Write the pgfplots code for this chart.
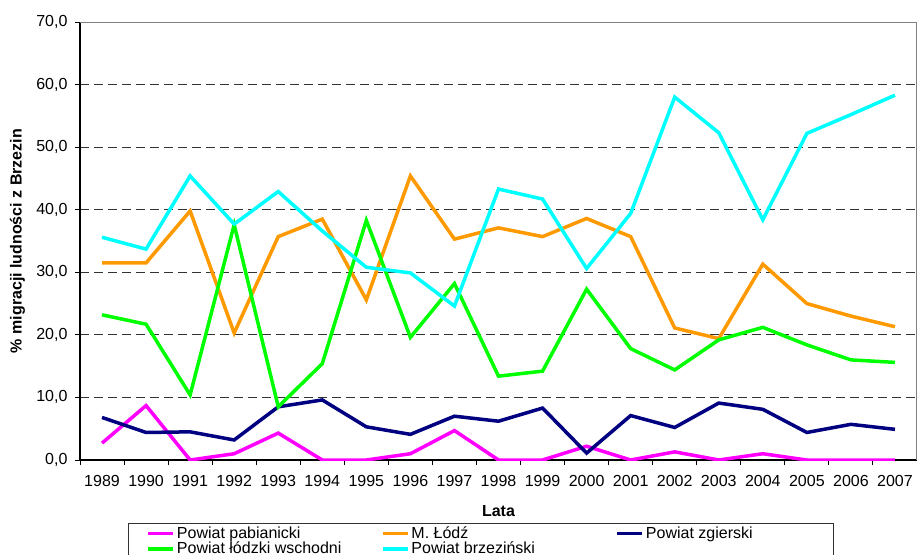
\documentclass[border=0pt]{standalone}
\usepackage{pgfplots}
\usepackage{pgfplotstable}
\pgfplotsset{compat=1.18}
\usepackage{fontspec}
\setmainfont{Liberation Sans}
\definecolor{cMag}{HTML}{FF00FF}
\definecolor{cOra}{HTML}{FF9900}
\definecolor{cNav}{HTML}{000080}
\definecolor{cGre}{HTML}{00FF00}
\definecolor{cCya}{HTML}{00FFFF}
\pgfplotstableread{
x year pab lodz zgi lwsch brz
0 1989 2.7 31.5 6.8 23.2 35.6
1 1990 8.7 31.5 4.4 21.7 33.7
2 1991 0.0 39.8 4.5 10.4 45.4
3 1992 1.0 20.3 3.2 37.6 37.7
4 1993 4.3 35.7 8.5 8.5 42.9
5 1994 0.0 38.5 9.6 15.4 36.6
6 1995 0.0 25.6 5.3 38.3 30.8
7 1996 1.0 45.4 4.1 19.6 29.9
8 1997 4.7 35.3 7.0 28.2 24.6
9 1998 0.0 37.1 6.2 13.4 43.3
10 1999 0.0 35.7 8.3 14.2 41.7
11 2000 2.2 38.6 1.1 27.3 30.6
12 2001 0.0 35.7 7.1 17.8 39.4
13 2002 1.3 21.1 5.2 14.4 58.0
14 2003 0.0 19.4 9.1 19.2 52.3
15 2004 1.0 31.3 8.1 21.2 38.4
16 2005 0.0 25.0 4.4 18.4 52.2
17 2006 0.0 23.0 5.7 16.0 55.2
18 2007 0.0 21.3 4.9 15.6 58.3
}\data
\begin{document}
\fontsize{16}{18}\selectfont
\begin{tikzpicture}
\useasboundingbox (0,0) rectangle (917pt,554pt);
\begin{axis}[
  at={(80pt,94pt)}, anchor=south west,
  scale only axis, width=837pt, height=438pt,
  xmin=-0.5, xmax=18.5, ymin=0, ymax=70,
  axis x line*=bottom, axis y line*=left,
  axis line style={-, black, line width=1.2pt},
  xtick={0,...,18},
  xticklabels={1989,1990,1991,1992,1993,1994,1995,1996,1997,1998,1999,2000,2001,2002,2003,2004,2005,2006,2007},
  minor xtick={-0.5,0.5,...,18.5},
  major x tick style={draw=none},
  tick align=outside, major tick length=5pt, minor tick length=5pt,
  tick style={black, line width=1pt},
  ytick={0,10,...,70},
  yticklabels={{0,0},{10,0},{20,0},{30,0},{40,0},{50,0},{60,0},{70,0}},
  ymajorgrids,
  grid style={black!80, line width=0.9pt, dash pattern=on 9pt off 5pt},
  xticklabel style={yshift=-5pt},
  yticklabel style={xshift=-2pt},
  xlabel={\textbf{Lata}},
  xlabel style={at={(axis description cs:0.5,-0.116)}, anchor=center},
  ylabel={\textbf{\% migracji ludności z Brzezin}},
  ylabel style={at={(axis description cs:-0.0747,0.5)}, anchor=center},
  legend columns=3,
  legend cell align=left,
  legend style={at={(axis description cs:0.0573,-0.1438)}, anchor=north west,
    draw=black!80, line width=1pt, inner xsep=18pt, inner ysep=1pt,
    row sep=-3pt,
    /tikz/every even column/.append style={column sep=0pt}},
  legend image code/.code={\draw[#1, line width=3.5pt] (0pt,0pt) -- (25pt,0pt);},
  every axis plot/.append style={line width=3.5pt},
]
\addplot[cMag] table[x=x,y=pab]{\data};
\addlegendentry{\makebox[202pt][l]{Powiat pabianicki}}
\addplot[cOra] table[x=x,y=lodz]{\data};
\addlegendentry{\makebox[202pt][l]{M. Łódź}}
\addplot[cNav] table[x=x,y=zgi]{\data};
\addlegendentry{\makebox[168pt][l]{Powiat zgierski}}
\addplot[cGre] table[x=x,y=lwsch]{\data};
\addlegendentry{\makebox[202pt][l]{Powiat łódzki wschodni}}
\addplot[cCya] table[x=x,y=brz]{\data};
\addlegendentry{\makebox[202pt][l]{Powiat brzeziński}}
\draw[black!50, line width=1.2pt] (rel axis cs:0,1) -- (rel axis cs:1,1) -- (rel axis cs:1,0);
\end{axis}
\end{tikzpicture}
\end{document}
